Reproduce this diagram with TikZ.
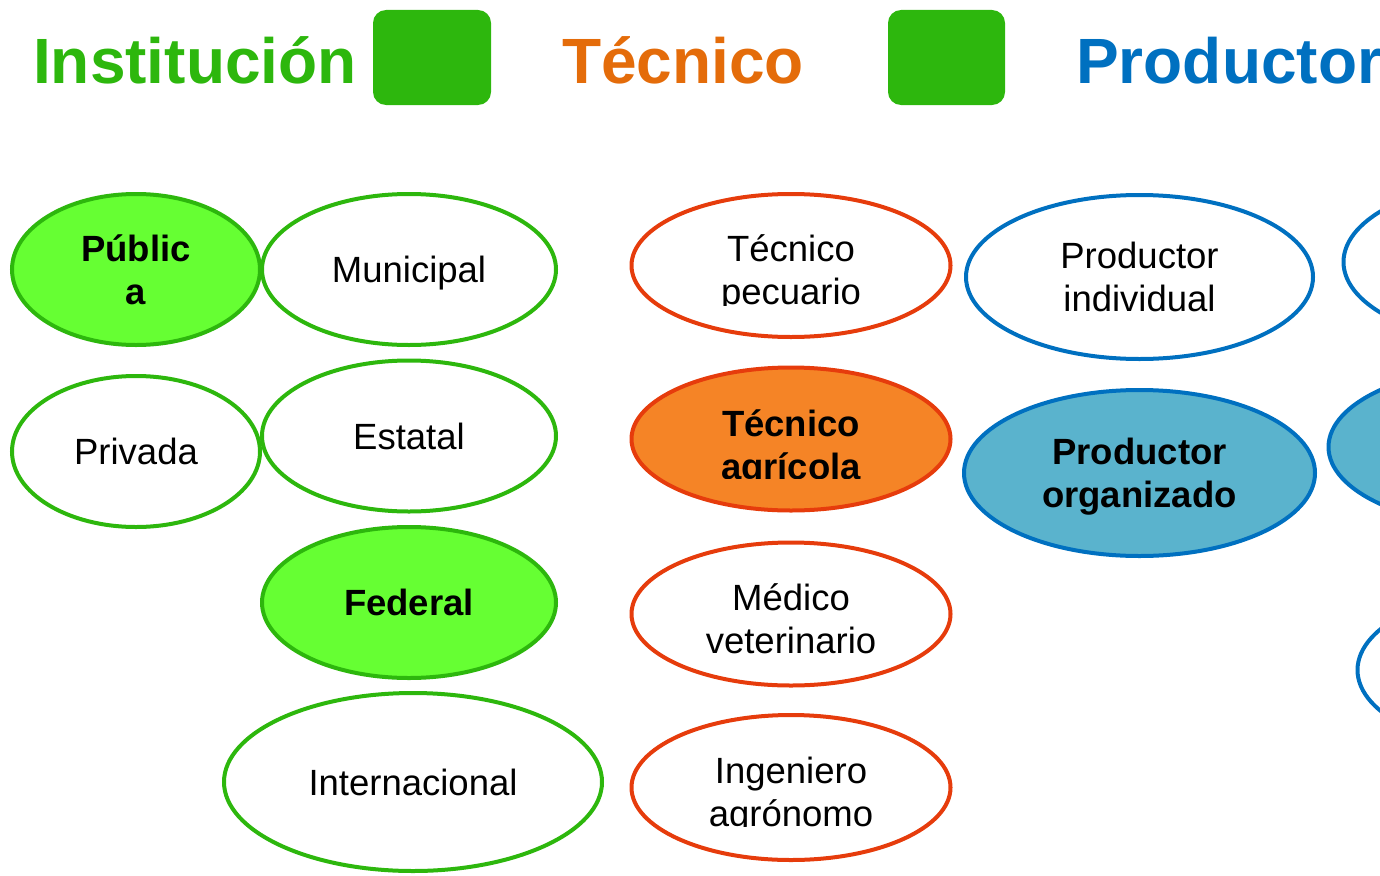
\documentclass[tikz,border=0pt]{standalone}
\usepackage{fontspec}
\setmainfont{Liberation Sans}
\usepackage{tikz}
\usetikzlibrary{shapes.geometric}
\definecolor{instgreen}{HTML}{2DB70D}
\definecolor{lightgreen}{HTML}{66FF33}
\definecolor{tecorange}{HTML}{E46C0A}
\definecolor{tecred}{HTML}{E63C0C}
\definecolor{tecfill}{HTML}{F58426}
\definecolor{prodblue}{HTML}{0070C0}
\definecolor{prodfill}{HTML}{5AB3CD}
\tikzset{oval/.style = {ellipse, draw, line width = 4pt, inner sep = 0, text depth = 0pt,
    align = center, font = \fontsize{36.5pt}{43pt}\selectfont}}
\tikzset{inst/.style = {oval, draw = instgreen, minimum width = 294pt, minimum height = 151pt}}
\tikzset{tec/.style = {oval, draw = tecred, minimum width = 319pt, minimum height = 143pt}}
\tikzset{prod/.style = {oval, draw = prodblue, minimum width = 347pt, minimum height = 164pt}}
\tikzset{txt/.style = {inner sep = 0, align = center, font = \fontsize{36.5pt}{43pt}\selectfont}}
\tikzset{head/.style = {inner sep = 0, anchor = base west, font = \fontsize{64pt}{70pt}\selectfont\bfseries}}
\tikzset{sq/.style = {fill = instgreen, rounded corners = 13pt}}

\begin{document}
\begin{tikzpicture}[x=1pt, y=-1pt]
    \clip (0, 0) rectangle (1380, 875);
    % titles
    \node [head, text = instgreen] (tinst) at (33, 83) {Institución};
    \node [head, text = tecorange] (ttec) at (562, 83) {Técnico};
    \node [head, text = prodblue] (tprod) at (1076, 83) {Productor};
    \fill [sq] (373, 10) rectangle (491, 105);
    \fill [sq] (888, 10) rectangle (1005, 105);
    % institucion
    \node [inst, minimum width = 248pt, fill = lightgreen] (pub) at (136, 269.5) {\bfseries Públic\\\bfseries a};
    \node [inst, minimum width = 248pt] (priv) at (136, 451.5) {Privada};
    \node [inst] (mun) at (409, 269.5) {Municipal};
    \node [inst] (est) at (409, 436) {Estatal};
    \node [inst, fill = lightgreen] (fed) at (409, 602.5) {\bfseries Federal};
    \node [inst, minimum width = 378pt, minimum height = 178pt] (inter) at (413, 782) {Internacional};
    % tecnico
    \node [tec] (pec) at (791, 265.5) {};
    \node [tec, fill = tecfill] (agri) at (791, 439) {};
    \node [tec] (vet) at (791, 614) {};
    \node [tec, minimum height = 145pt] (agro) at (791, 787.5) {};
    \begin{scope}
      \clip (630, 190) rectangle (953, 305);
      \node [txt] (pec-t) at (791, 273.5) {Técnico\\pecuario};
    \end{scope}
    \begin{scope}
      \clip (630, 360) rectangle (953, 478);
      \node [txt] (agri-t) at (791, 448) {\bfseries Técnico\\\bfseries agrícola};
    \end{scope}
    \node [txt] (vet-t) at (791, 618.5) {Médico\\veterinario};
    \begin{scope}
      \clip (630, 710) rectangle (953, 826);
      \node [txt] (agro-t) at (791, 796) {Ingeniero\\agrónomo};
    \end{scope}
    % productor
    \node [prod] (indiv) at (1139.5, 277) {Productor\\individual};
    \node [prod, fill = prodfill, minimum width = 351pt, minimum height = 166pt] (org) at (1139.5, 473) {\bfseries Productor\\\bfseries organizado};
    \node [prod] (pa) at (1517, 262) {};
    \node [prod, fill = prodfill, minimum height = 160pt] (pb) at (1502, 447) {};
    \node [prod] (pc) at (1531, 670) {};
  \end{tikzpicture}
\end{document}
